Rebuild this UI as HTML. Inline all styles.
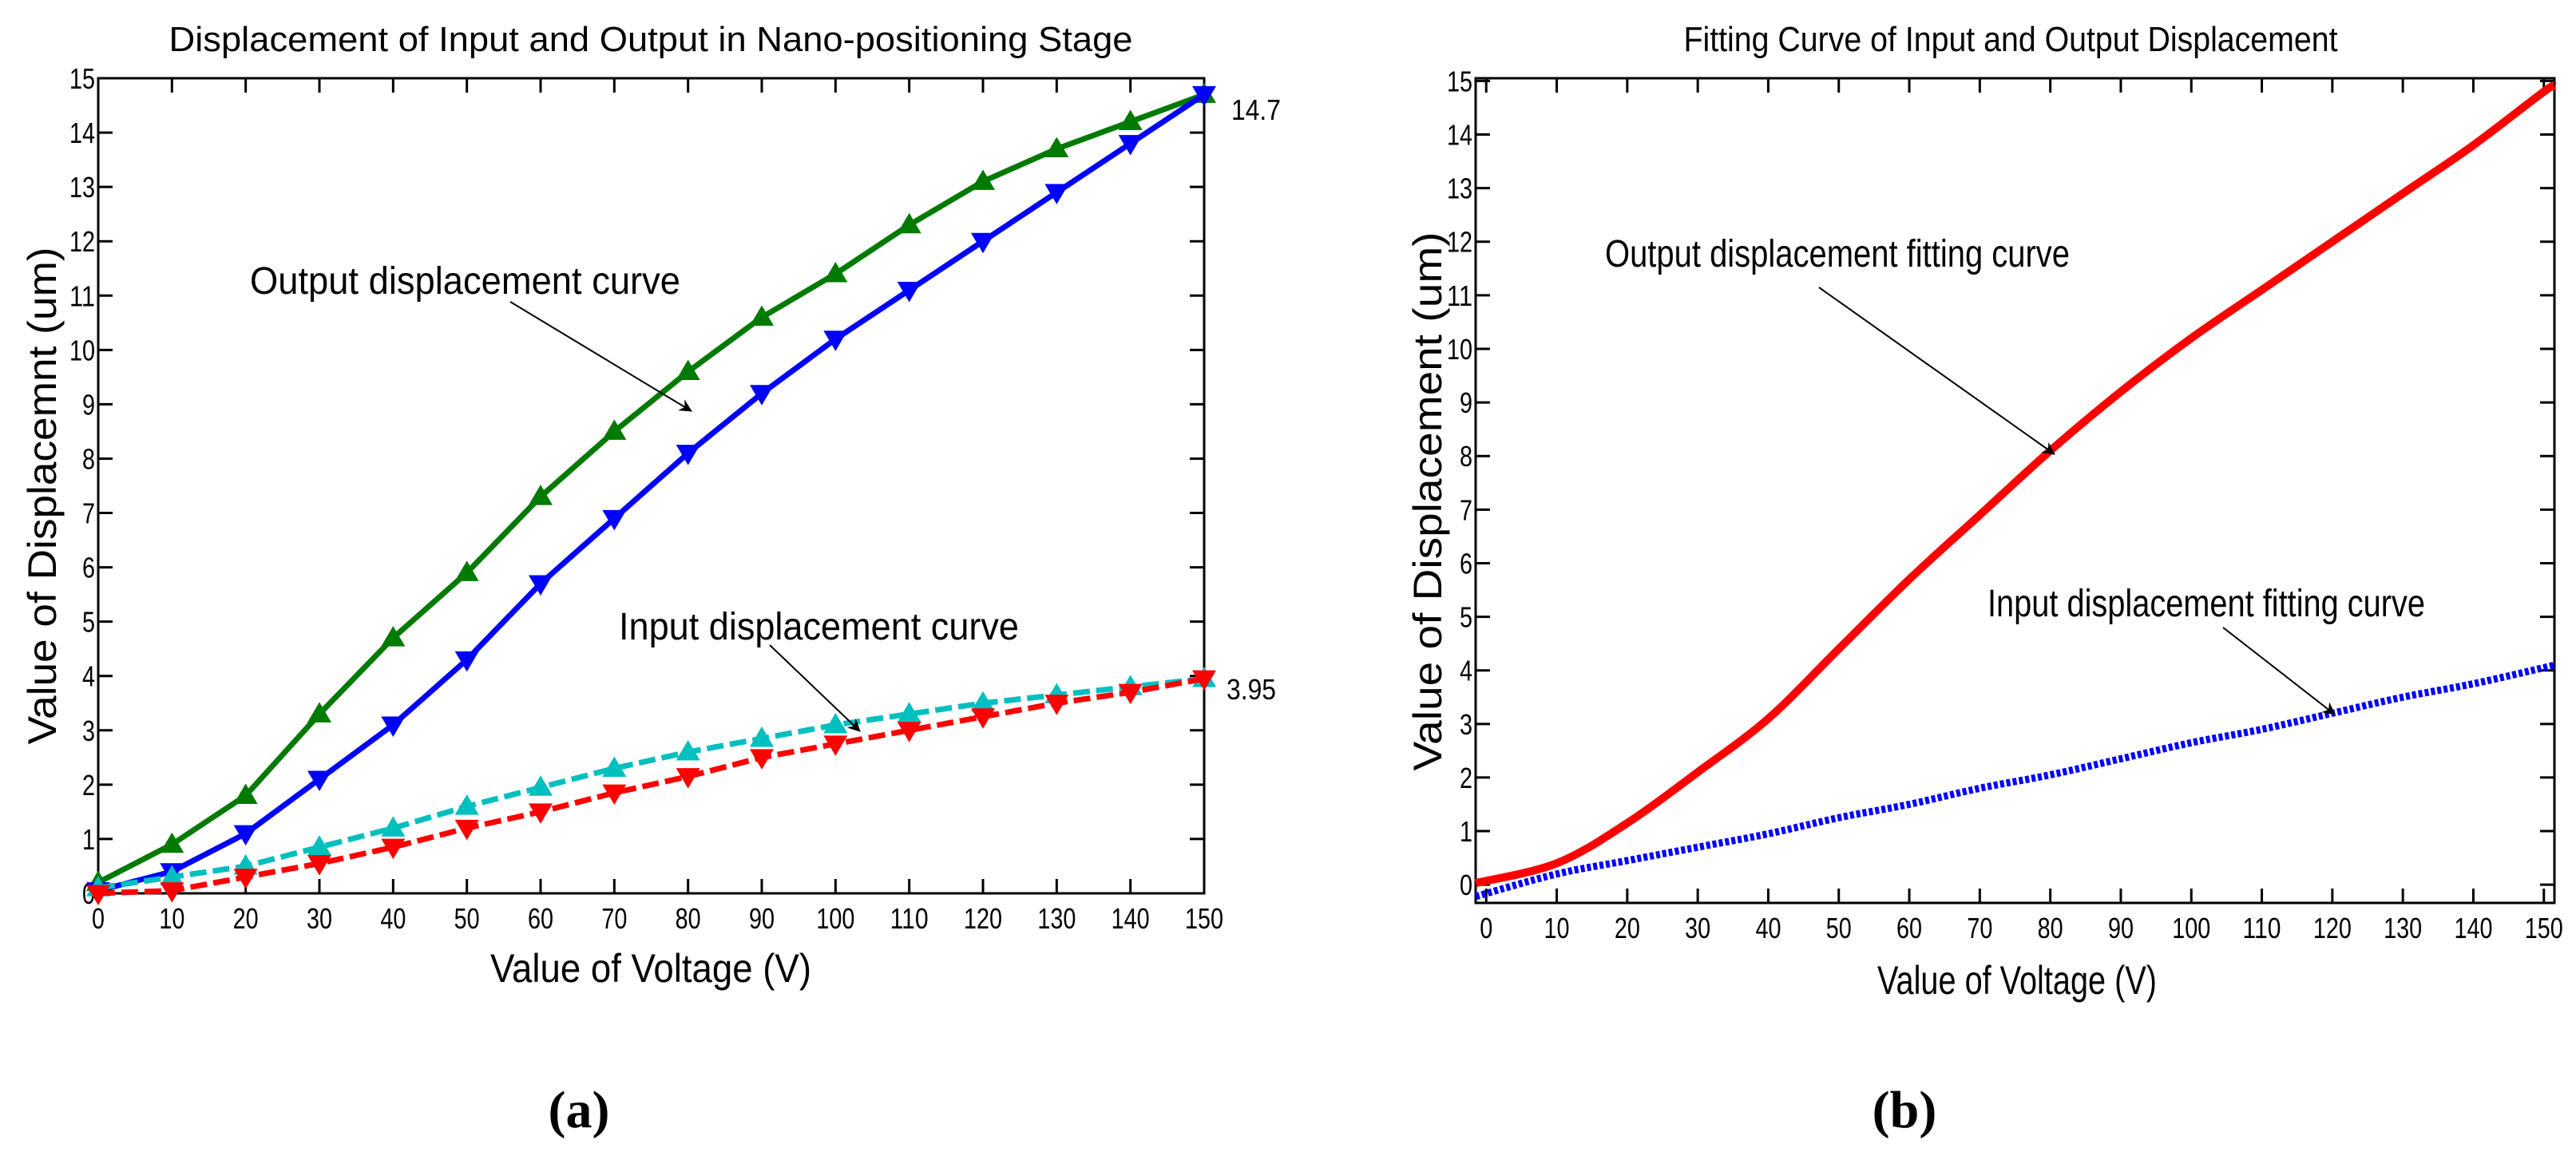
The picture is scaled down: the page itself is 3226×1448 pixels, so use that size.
<!DOCTYPE html>
<html><head><meta charset="utf-8"><style>
html,body{margin:0;padding:0;background:#fff}
svg{display:block}
text{font-family:"Liberation Sans",sans-serif;fill:#000}
</style></head><body>
<svg id="fig" width="3226" height="1448" viewBox="0 0 3226 1448" xmlns="http://www.w3.org/2000/svg">
<defs><marker id="arr" markerWidth="16" markerHeight="16" refX="15" refY="8" orient="auto" markerUnits="userSpaceOnUse"><path d="M0,0 L16,8 L0,16 L5,8 Z" fill="#000"/></marker></defs>
<g id="pa"></g>
<g id="pb"></g>
<text x="725" y="1412" text-anchor="middle" font-size="66" font-weight="bold" style="font-family:'Liberation Serif',serif">(a)</text>
<text x="2385" y="1412" text-anchor="middle" font-size="66" font-weight="bold" style="font-family:'Liberation Serif',serif">(b)</text>
</svg>
<script>
const voltages=[0,10,20,30,40,50,60,70,80,90,100,110,120,130,140,150];
const outUp=[0.2,0.9,1.8,3.3,4.7,5.9,7.3,8.5,9.6,10.6,11.4,12.3,13.1,13.7,14.2,14.7];
const outDown=[0.05,0.4,1.1,2.1,3.1,4.3,5.7,6.9,8.1,9.2,10.2,11.1,12.0,12.9,13.8,14.7];
const inUp=[0.1,0.3,0.5,0.85,1.2,1.6,1.95,2.3,2.6,2.85,3.1,3.3,3.5,3.65,3.8,3.95];
const inDown=[0,0.05,0.3,0.55,0.85,1.2,1.5,1.85,2.15,2.5,2.75,3.0,3.25,3.5,3.7,3.95];
const fitX=[-1.5,10,20,30,40,50,60,70,80,90,100,110,120,130,140,150,151.5];
const fitOut=[0.03,0.4,1.15,2.1,3.1,4.4,5.7,6.9,8.1,9.2,10.2,11.1,12.0,12.9,13.8,14.8,14.9];
const fitIn=[-0.22,0.2,0.45,0.7,0.95,1.25,1.5,1.8,2.05,2.35,2.65,2.9,3.2,3.5,3.75,4.05,4.1];
const xTicks=[0,10,20,30,40,50,60,70,80,90,100,110,120,130,140,150];
const yTicks=[0,1,2,3,4,5,6,7,8,9,10,11,12,13,14,15];
const NS="http://www.w3.org/2000/svg";
function mk(p,t,a,txt){const e=document.createElementNS(NS,t);for(const k in a)e.setAttribute(k,a[k]);if(txt!==undefined)e.textContent=txt;p.appendChild(e);return e;}
function smooth(pts){let d=`M${pts[0][0]},${pts[0][1]}`;for(let i=0;i<pts.length-1;i++){const p0=pts[Math.max(0,i-1)],p1=pts[i],p2=pts[i+1],p3=pts[Math.min(pts.length-1,i+2)];const c1=[p1[0]+(p2[0]-p0[0])/6,p1[1]+(p2[1]-p0[1])/6],c2=[p2[0]-(p3[0]-p1[0])/6,p2[1]-(p3[1]-p1[1])/6];d+=` C${c1[0]},${c1[1]} ${c2[0]},${c2[1]} ${p2[0]},${p2[1]}`;}return d;}
function txt(g,s,x,y,fs,len,anchor,name,extra){const a={x:x,y:y,'font-size':fs,'text-anchor':anchor||'start',textLength:len,lengthAdjust:'spacingAndGlyphs'};if(extra)Object.assign(a,extra);const t=mk(g,'text',a,s);return t;}
function axes(g,c){
  const X=v=>c.x0+(v-c.xmin)/(c.xmax-c.xmin)*(c.x1-c.x0), Y=v=>c.y0-(v-c.ymin)/(c.ymax-c.ymin)*(c.y0-c.y1);
  const ax=mk(g,'rect',{x:c.x0,y:c.y1,width:c.x1-c.x0,height:c.y0-c.y1,fill:'none',stroke:'#000','stroke-width':3});
  
  xTicks.forEach(t=>{const x=X(t);mk(g,'line',{x1:x,x2:x,y1:c.y0,y2:c.y0-18,stroke:'#000','stroke-width':3});mk(g,'line',{x1:x,x2:x,y1:c.y1,y2:c.y1+18,stroke:'#000','stroke-width':3});
    txt(g,String(t),x,c.y0+44,36,String(t).length*16,'middle','x-tick-label');});
  yTicks.forEach(t=>{const y=Y(t);mk(g,'line',{x1:c.x0,x2:c.x0+18,y1:y,y2:y,stroke:'#000','stroke-width':3});mk(g,'line',{x1:c.x1,x2:c.x1-18,y1:y,y2:y,stroke:'#000','stroke-width':3});
    txt(g,String(t),c.x0-4,y+13,36,String(t).length*16,'end','y-tick-label');});
  return [X,Y];
}
function tri(g,x,y,up,col){const s=15;const d=up?`M${x},${y-s} L${x+s},${y+s*0.7} L${x-s},${y+s*0.7}Z`:`M${x},${y+s} L${x+s},${y-s*0.7} L${x-s},${y-s*0.7}Z`;const m=mk(g,'path',{d:d,fill:col});}
function arrow(g,x1,y1,x2,y2){const t=mk(g,'line',{x1:x1,y1:y1,x2:x2,y2:y2,stroke:'#000','stroke-width':2,'marker-end':'url(#arr)'});}
// chart a
const ga=document.getElementById('pa');
const ca={x0:123,x1:1508,y0:1119,y1:98,xmin:0,xmax:150,ymin:0,ymax:15};
const [Xa,Ya]=axes(ga,ca);
txt(ga,'Displacement of Input and Output in Nano-positioning Stage',815,64,44,1207,'middle','chart-a-title');
txt(ga,'Value of Voltage (V)',815,1230,50,402,'middle','x-axis-title');
txt(ga,'Value of Displacemnt (um)',0,0,50,623,'middle','y-axis-title',{transform:'translate(70,621) rotate(-90)'});
[[outUp,'#007a00',true,false],[outDown,'#0000ff',false,false],[inUp,'#00bfbf',true,true],[inDown,'#ff0000',false,true]].forEach(([s,col,up,dash])=>{
  const pts=voltages.map((v,i)=>Xa(v)+','+Ya(s[i])).join(' ');
  const pl=mk(ga,'polyline',{points:pts,fill:'none',stroke:col,'stroke-width':7,'stroke-dasharray':dash?'21,8':'none','stroke-linejoin':'round'});
  
  voltages.forEach((v,i)=>tri(ga,Xa(v),Ya(s[i]),up,col));
});
txt(ga,'14.7',1542,150,36,62,'start','end-value-label');
txt(ga,'3.95',1536,876,36,62,'start','end-value-label');
txt(ga,'Output displacement curve',313,368,48,539,'start','annotation-output');
arrow(ga,639,378,866,515);
txt(ga,'Input displacement curve',775,801,48,501,'start','annotation-input');
arrow(ga,964,808,1077,916);
// chart b
const gb=document.getElementById('pb');
const cb={x0:1848,x1:3199,y0:1131,y1:98,xmin:-1.5,xmax:151.5,ymin:-0.34,ymax:15.05};
const [Xb,Yb]=axes(gb,cb);
txt(gb,'Fitting Curve of Input and Output Displacement',2518,64,44,819,'middle','chart-b-title');
txt(gb,'Value of Voltage (V)',2526,1245,50,350,'middle','x-axis-title');
txt(gb,'Value of Displacement (um)',0,0,50,675,'middle','y-axis-title',{transform:'translate(1805,628) rotate(-90)'});
let t=mk(gb,'path',{d:smooth(fitX.map((v,i)=>[Xb(v),Yb(fitOut[i])])),fill:'none',stroke:'#ff0000','stroke-width':10});
t=mk(gb,'path',{d:smooth(fitX.map((v,i)=>[Xb(v),Yb(fitIn[i])])),fill:'none',stroke:'#0000ff','stroke-width':9,'stroke-dasharray':'5,3'});
txt(gb,'Output displacement  fitting curve',2010,334,48,582,'start','annotation-output');
arrow(gb,2278,360,2573,569);
txt(gb,'Input displacement  fitting curve',2489,772,48,548,'start','annotation-input');
arrow(gb,2784,786,2924,895);
</script>
</body></html>
